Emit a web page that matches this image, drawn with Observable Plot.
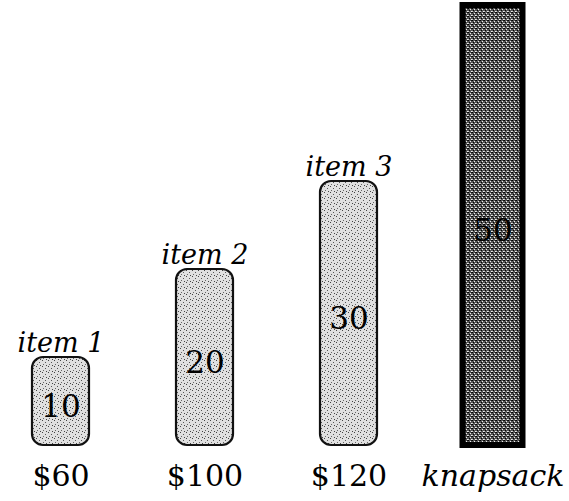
<!DOCTYPE html>
<html>
<head>
<meta charset="utf-8">
<script src="https://cdn.jsdelivr.net/npm/d3@7"></script>
<script src="https://cdn.jsdelivr.net/npm/@observablehq/plot@0.6"></script>
<style>
  html, body { margin: 0; padding: 0; background: #fff; }
  #chart svg { display: block; overflow: visible; }
  #chart svg text { font-family: "DejaVu Serif", serif !important; }
</style>
</head>
<body>
<div id="chart"></div>
<script>
const names = ["item 1", "item 2", "item 3", "knapsack"];
const weights = [10, 20, 30, 50];
const bottomLabels = ["$60", "$100", "$120", "knapsack"];
const kinds = ["item", "item", "item", "knapsack"];

const data = names.map((n, i) => ({name: n, weight: weights[i], bottom: bottomLabels[i], kind: kinds[i]}));
const items = data.filter(d => d.kind === "item");
const sack = data.filter(d => d.kind === "knapsack");

const chart = Plot.plot({
  width: 569,
  height: 501,
  marginLeft: 0,
  marginRight: 16,
  marginTop: 5,
  marginBottom: 56,
  x: {domain: names, axis: null, paddingInner: 0.605, paddingOuter: 0.218},
  y: {domain: [0, 50], axis: null},
  marks: [
    Plot.barY(items, {x: "name", y: "weight", fill: "url(#stipLight)", stroke: "#111", strokeWidth: 2.2, rx: 11}),
    Plot.barY(sack, {x: "name", y: "weight", fill: "url(#stipDark)", stroke: "#000", strokeWidth: 6, insetLeft: -1.5, insetRight: -1.5}),
    Plot.text(data, {x: "name", y: d => d.weight / 2, text: d => String(d.weight), dy: 6, fontSize: 31, fill: "#000"}),
    Plot.text(items, {x: "name", y: "weight", text: "name", dy: -6, lineAnchor: "bottom", fontStyle: "italic", fontSize: 27, fill: "#000"}),
    Plot.text(items, {x: "name", y: 0, text: "bottom", dy: 31, fontSize: 30, fill: "#000"}),
    Plot.text(sack, {x: "name", y: 0, text: "bottom", dy: 31, fontStyle: "italic", fontSize: 30, fill: "#000"})
  ]
});

const ns = "http://www.w3.org/2000/svg";
const defs = document.createElementNS(ns, "defs");
defs.innerHTML = `
  <pattern id="stipLight" patternUnits="userSpaceOnUse" width="6" height="6">
    <rect width="6" height="6" fill="#e0e0e0"/>
    <rect x="0" y="0" width="1" height="1" fill="#444"/>
    <rect x="3" y="2" width="1" height="1" fill="#555"/>
    <rect x="1" y="4" width="1" height="1" fill="#666"/>
    <rect x="4" y="5" width="1" height="1" fill="#444"/>
  </pattern>
  <pattern id="stipDark" patternUnits="userSpaceOnUse" width="4" height="4">
    <rect width="4" height="4" fill="#555"/>
    <rect x="0" y="0" width="1" height="1" fill="#000"/>
    <rect x="2" y="1" width="1" height="1" fill="#f0f0f0"/>
    <rect x="1" y="2" width="1" height="1" fill="#000"/>
    <rect x="3" y="3" width="1" height="1" fill="#f0f0f0"/>
    <rect x="3" y="0" width="1" height="1" fill="#111"/>
    <rect x="0" y="3" width="1" height="1" fill="#ccc"/>
  </pattern>`;
chart.insertBefore(defs, chart.firstChild);

document.getElementById("chart").appendChild(chart);
</script>
</body>
</html>
